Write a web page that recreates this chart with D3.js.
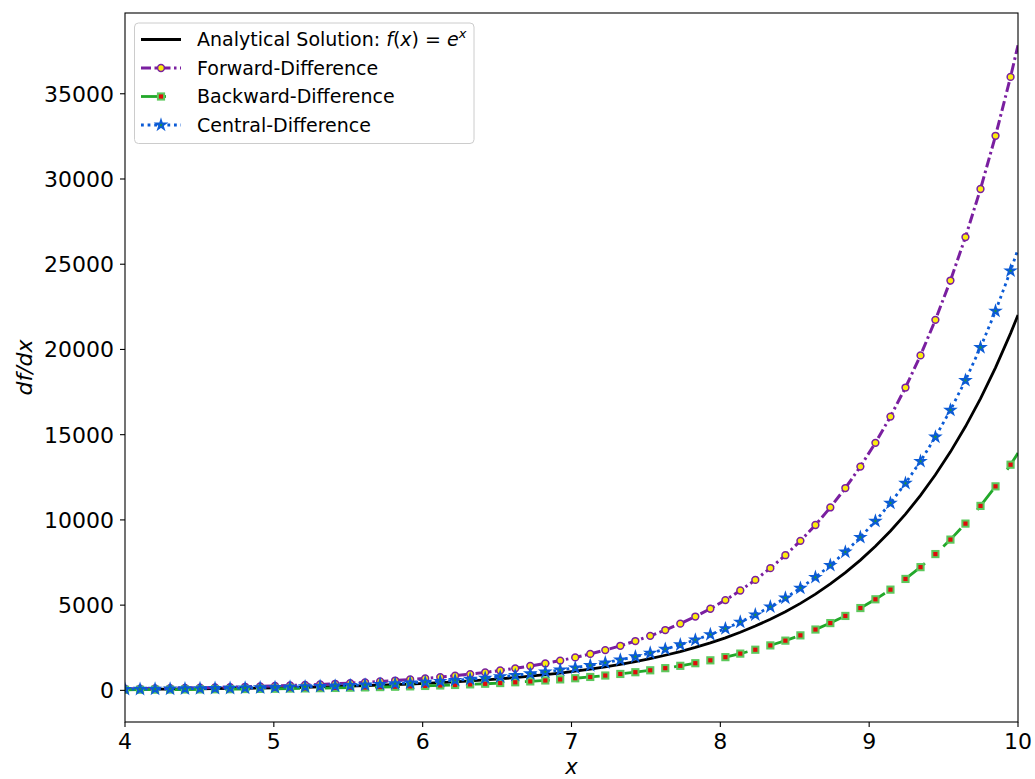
<!DOCTYPE html>
<html>
<head>
<meta charset="utf-8">
<script src="https://cdn.jsdelivr.net/npm/d3@7"></script>
<style>
	body { margin: 0; background: #fff; }
	text { font-family: "DejaVu Sans", sans-serif; fill: #000; }
</style>
</head>
<body>
<svg id="ChartSvg" width="1035" height="779"></svg>
<script>
// x grid (markers on every point except the last one at x = 10)
var XValues = [4.000,4.101,4.202,4.303,4.403,4.504,4.605,4.706,4.807,4.908,
	5.008,5.109,5.210,5.311,5.412,5.513,5.613,5.714,5.815,5.916,
	6.017,6.118,6.218,6.319,6.420,6.521,6.622,6.723,6.824,6.924,
	7.025,7.126,7.227,7.328,7.429,7.529,7.630,7.731,7.832,7.933,
	8.034,8.134,8.235,8.336,8.437,8.538,8.639,8.739,8.840,8.941,
	9.042,9.143,9.244,9.345,9.445,9.546,9.647,9.748,9.849,9.950,10.000];

var Analytical = [55,60,67,74,82,90,100,111,122,135,
	150,166,183,203,224,248,274,303,335,371,
	410,454,502,555,614,679,751,831,919,1017,
	1125,1244,1376,1522,1683,1862,2060,2278,2520,2787,
	3083,3410,3772,4172,4615,5104,5646,6245,6907,7640,
	8451,9347,10339,11436,12650,13992,15476,17118,18934,20943,22026];

var Forward = [94,104,115,127,140,155,172,190,210,232,
	257,284,315,348,385,426,471,521,576,637,
	705,780,862,954,1055,1167,1291,1428,1579,1747,
	1932,2137,2364,2615,2893,3199,3539,3914,4330,4789,
	5297,5859,6481,7169,7929,8770,9701,10730,11869,13128,
	14521,16061,17766,19651,21736,24042,26593,29414,32535,35987,37847];

var Backward = [35,38,42,47,52,57,63,70,77,86,
	95,105,116,128,142,157,173,192,212,234,
	259,287,317,351,388,429,475,525,581,643,
	711,786,870,962,1064,1177,1302,1440,1593,1762,
	1949,2156,2384,2637,2917,3226,3569,3947,4366,4829,
	5342,5909,6536,7229,7996,8844,9783,10821,11969,13239,13923];

var Central = [64,71,79,87,96,106,118,130,144,159,
	176,195,215,238,263,291,322,356,394,436,
	482,533,590,652,722,798,883,977,1080,1195,
	1322,1462,1617,1789,1978,2188,2420,2677,2961,3275,
	3623,4007,4433,4903,5423,5998,6635,7339,8117,8979,
	9931,10985,12151,13440,14866,16443,18188,20117,22252,24613,25886];

var XTicks = [4,5,6,7,8,9,10];
var YTicks = [0,5000,10000,15000,20000,25000,30000,35000];

var Left = 125, Right = 1018, Top = 13, Bottom = 722;

var Svg = d3.select("#ChartSvg");

var XScale = d3.scaleLinear().domain([4,10]).range([Left,Right]);
var YScale = d3.scaleLinear().domain([-1856,39738]).range([Bottom,Top]);

Svg.append("defs").append("clipPath").attr("id","PlotClip")
	.append("rect")
	.attr("x",Left).attr("y",Top)
	.attr("width",Right-Left).attr("height",Bottom-Top);

function ToPoints(Values)
{
	return Values.map(function(v,i){ return {x: XValues[i], y: v}; });
}

var LineGen = d3.line()
	.x(function(d){ return XScale(d.x); })
	.y(function(d){ return YScale(d.y); });

var Series = [
	{name:"Analytical", values:Analytical, color:"#000000", width:2.8, dash:null, marker:null},
	{name:"Forward", values:Forward, color:"#7a1fa0", width:3, dash:"10,3.5,2.5,3.5", marker:"circle"},
	{name:"Backward", values:Backward, color:"#22a82a", width:2.8, dash:"25,25", marker:"square"},
	{name:"Central", values:Central, color:"#0b5bd6", width:2.8, dash:"2.8,3.8", marker:"star"}
];

var PlotG = Svg.append("g").attr("clip-path","url(#PlotClip)");

function DrawMarker(Sel, Kind, X, Y)
{
	if (Kind == "circle")
	{
		Sel.append("circle")
			.attr("cx",X).attr("cy",Y).attr("r",3.4)
			.style("fill","#fcec0c").style("stroke","#7a1fa0").style("stroke-width",1.5);
	}
	else if (Kind == "square")
	{
		Sel.append("rect")
			.attr("x",X-3.1).attr("y",Y-3.1).attr("width",6.2).attr("height",6.2)
			.style("fill","#e00b0b").style("stroke","#5cc95c").style("stroke-width",2);
	}
	else if (Kind == "star")
	{
		Sel.append("path")
			.attr("d",d3.symbol().type(d3.symbolStar).size(26)())
			.attr("transform","translate(" + X + "," + Y + ")")
			.style("fill","#1f9a2c").style("stroke","#0b5bd6").style("stroke-width",1.8);
	}
}

Series.forEach(function(S)
{
	var Pts = ToPoints(S.values);
	var Path = PlotG.append("path")
		.datum(Pts)
		.attr("d",LineGen)
		.style("fill","none")
		.style("stroke",S.color)
		.style("stroke-width",S.width);
	if (S.dash) Path.style("stroke-dasharray",S.dash);

	if (S.marker)
	{
		var MarkG = PlotG.append("g");
		Pts.slice(0,Pts.length-1).forEach(function(d)
		{
			DrawMarker(MarkG, S.marker, XScale(d.x), YScale(d.y));
		});
	}
});

// frame
Svg.append("rect")
	.attr("x",Left).attr("y",Top)
	.attr("width",Right-Left).attr("height",Bottom-Top)
	.style("fill","none").style("stroke","#000").style("stroke-width",1.1);

// ticks
var XAxisG = Svg.append("g");
XAxisG.selectAll("line").data(XTicks).enter().append("line")
	.attr("x1",function(d){ return XScale(d); })
	.attr("x2",function(d){ return XScale(d); })
	.attr("y1",Bottom).attr("y2",Bottom+5)
	.style("stroke","#000").style("stroke-width",1.1);
XAxisG.selectAll("text").data(XTicks).enter().append("text")
	.attr("x",function(d){ return XScale(d); })
	.attr("y",749)
	.attr("text-anchor","middle")
	.style("font-size","22px")
	.text(function(d){ return d; });

var YAxisG = Svg.append("g");
YAxisG.selectAll("line").data(YTicks).enter().append("line")
	.attr("x1",Left-5).attr("x2",Left)
	.attr("y1",function(d){ return YScale(d); })
	.attr("y2",function(d){ return YScale(d); })
	.style("stroke","#000").style("stroke-width",1.1);
YAxisG.selectAll("text").data(YTicks).enter().append("text")
	.attr("x",114)
	.attr("y",function(d){ return YScale(d) + 8; })
	.attr("text-anchor","end")
	.style("font-size","22px")
	.text(function(d){ return d; });

// axis labels
Svg.append("text")
	.attr("x",(Left+Right)/2).attr("y",774)
	.attr("text-anchor","middle")
	.style("font-size","21px").style("font-style","italic")
	.text("x");

Svg.append("text")
	.attr("transform","translate(32," + ((Top+Bottom)/2) + ") rotate(-90)")
	.attr("text-anchor","middle")
	.style("font-size","22px").style("font-style","italic")
	.text("df/dx");

// legend
var LegendG = Svg.append("g");
LegendG.append("rect")
	.attr("x",134.5).attr("y",23).attr("width",339.5).attr("height",120.5)
	.attr("rx",4)
	.style("fill","rgba(255,255,255,0.8)").style("stroke","#cccccc").style("stroke-width",1);

var LegendRows = [39.5, 68, 96.5, 125];
var LegendNames = ["Analytical Solution: ", "Forward-Difference", "Backward-Difference", "Central-Difference"];

Series.forEach(function(S,i)
{
	var Y = LegendRows[i];
	var L = LegendG.append("line")
		.attr("x1",141).attr("x2",181).attr("y1",Y).attr("y2",Y)
		.style("stroke",S.color).style("stroke-width",S.width);
	if (S.dash) L.style("stroke-dasharray",S.dash);
	if (S.marker) DrawMarker(LegendG, S.marker, 161, Y);

	var T = LegendG.append("text")
		.attr("x",197).attr("y",Y + 6.5)
		.style("font-size","19px")
		.text(LegendNames[i]);
	if (i == 0)
	{
		T.append("tspan").style("font-style","italic").text("f");
		T.append("tspan").text("(");
		T.append("tspan").style("font-style","italic").text("x");
		T.append("tspan").text(") = ");
		T.append("tspan").style("font-style","italic").text("e");
		T.append("tspan").style("font-style","italic").style("font-size","13px")
			.attr("dy",-8).text("x");
	}
});
</script>
</body>
</html>
